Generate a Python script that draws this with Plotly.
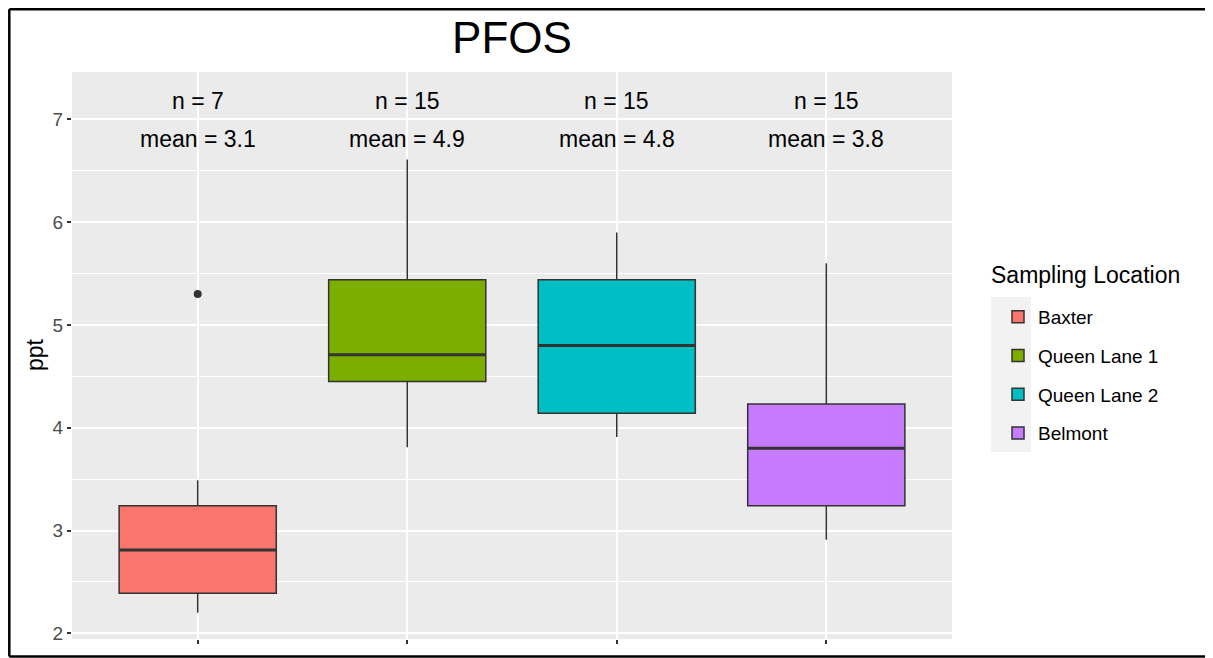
import plotly.graph_objects as go

# ---- data ----
locations = ["Baxter", "Queen Lane 1", "Queen Lane 2", "Belmont"]
positions = [1, 2, 3, 4]
lower_whisker = [2.20, 3.81, 3.91, 2.91]
q1_values = [2.39, 4.45, 4.14, 3.24]
medians = [2.81, 4.71, 4.80, 3.80]
q3_values = [3.24, 5.44, 5.44, 4.23]
upper_whisker = [3.49, 6.61, 5.90, 5.60]
outlier_location = [1]
outlier_values = [5.30]
n_counts = [7, 15, 15, 15]
mean_values = [3.1, 4.9, 4.8, 3.8]
colors = ["#F8766D", "#7CAE00", "#00BFC4", "#C77CFF"]
y_ticks = [2, 3, 4, 5, 6, 7]

FONT = "Liberation Sans, Arial, sans-serif"
BOX_W = 0.75
LINE = "#333333"
PAGE_OFF = 8  # default body margin of the page

fig = go.Figure()
for i, name in enumerate(locations):
    fig.add_trace(go.Box(
        x=[positions[i]], name=name,
        q1=[q1_values[i]], median=[medians[i]], q3=[q3_values[i]],
        lowerfence=[lower_whisker[i]], upperfence=[upper_whisker[i]],
        width=BOX_W, whiskerwidth=0,
        fillcolor=colors[i], line=dict(color=LINE, width=1.5),
        legendgroup=name, showlegend=True, hoverinfo="skip",
    ))
    # thicker median line (ggplot fatten)
    fig.add_trace(go.Scatter(
        x=[positions[i] - BOX_W / 2, positions[i] + BOX_W / 2],
        y=[medians[i], medians[i]], mode="lines",
        line=dict(color=LINE, width=3), showlegend=False,
        legendgroup=name, hoverinfo="skip",
    ))

fig.add_trace(go.Scatter(
    x=outlier_location, y=outlier_values, mode="markers",
    marker=dict(color=LINE, size=8), showlegend=False, hoverinfo="skip",
))

for i in range(len(locations)):
    fig.add_annotation(x=positions[i], y=7.18, text=f"n = {n_counts[i]}",
                       showarrow=False, font=dict(family=FONT, size=23, color="black"),
                       xanchor="center", yanchor="middle")
    fig.add_annotation(x=positions[i], y=6.81, text=f"mean = {mean_values[i]}",
                       showarrow=False, font=dict(family=FONT, size=23, color="black"),
                       xanchor="center", yanchor="middle")


# helpers: page pixel -> paper coordinates of plot area (72..952, 72..639)
def px_x(p):
    return (p - 72) / 880


def px_y(p):
    return 1 - (p - 72) / 567


# y axis title
fig.add_annotation(xref="paper", yref="paper", x=px_x(35), y=px_y(355),
                   text="ppt", textangle=-90, showarrow=False,
                   font=dict(family=FONT, size=23, color="black"),
                   xanchor="center", yanchor="middle")

# legend title
fig.add_annotation(xref="paper", yref="paper", x=px_x(989), y=px_y(275),
                   text="Sampling Location", showarrow=False,
                   font=dict(family=FONT, size=23, color="black"),
                   xanchor="left", yanchor="middle")

# outer frame (left, top, bottom) - as close to the page edge as the figure allows
FL, FT, FB = 9.3, 9.3, 656.5
for x0, y0, x1, y1 in [(FL, FT, FL, FB), (FL, FT, 1213, FT), (FL, FB, 1213, FB)]:
    fig.add_shape(type="line", xref="paper", yref="paper",
                  x0=px_x(x0), y0=px_y(y0), x1=px_x(x1), y1=px_y(y1),
                  line=dict(color="black", width=2.5), layer="above")

# legend key background
fig.add_shape(type="rect", xref="paper", yref="paper",
              x0=px_x(991), x1=px_x(1031), y0=px_y(452), y1=px_y(297),
              fillcolor="#F2F2F2", line=dict(width=0), layer="below")

fig.update_layout(
    width=1213 - PAGE_OFF, height=658 - PAGE_OFF,
    margin=dict(l=72 - PAGE_OFF, r=261, t=72 - PAGE_OFF, b=19),
    paper_bgcolor="white", plot_bgcolor="#EBEBEB",
    boxmode="overlay",
    title=dict(text="PFOS", x=0.5, xref="paper", xanchor="center",
               y=1 - (38 - PAGE_OFF) / (658 - PAGE_OFF), yanchor="middle",
               font=dict(family=FONT, size=44, color="black")),
    font=dict(family=FONT),
    xaxis=dict(range=[0.4, 4.6], tickvals=positions, showticklabels=False,
               showgrid=True, gridcolor="white", gridwidth=2,
               ticks="outside", ticklen=4, tickcolor=LINE, tickwidth=1.5,
               zeroline=False, showline=False, fixedrange=True),
    yaxis=dict(range=[1.945, 7.46], tickvals=y_ticks,
               showgrid=True, gridcolor="white", gridwidth=2,
               minor=dict(dtick=0.5, tick0=2.5, showgrid=True, gridcolor="white", gridwidth=1),
               ticks="outside", ticklen=4, tickcolor=LINE, tickwidth=1.5,
               tickfont=dict(family=FONT, size=19, color="#4D4D4D"),
               zeroline=False, showline=False, fixedrange=True),
    legend=dict(x=px_x(998), y=px_y(298), xanchor="left", yanchor="top",
                font=dict(family=FONT, size=19, color="black"),
                bgcolor="rgba(0,0,0,0)", tracegroupgap=11, traceorder="grouped",
                itemwidth=30),
    showlegend=True,
)

fig.write_html("out.html")
